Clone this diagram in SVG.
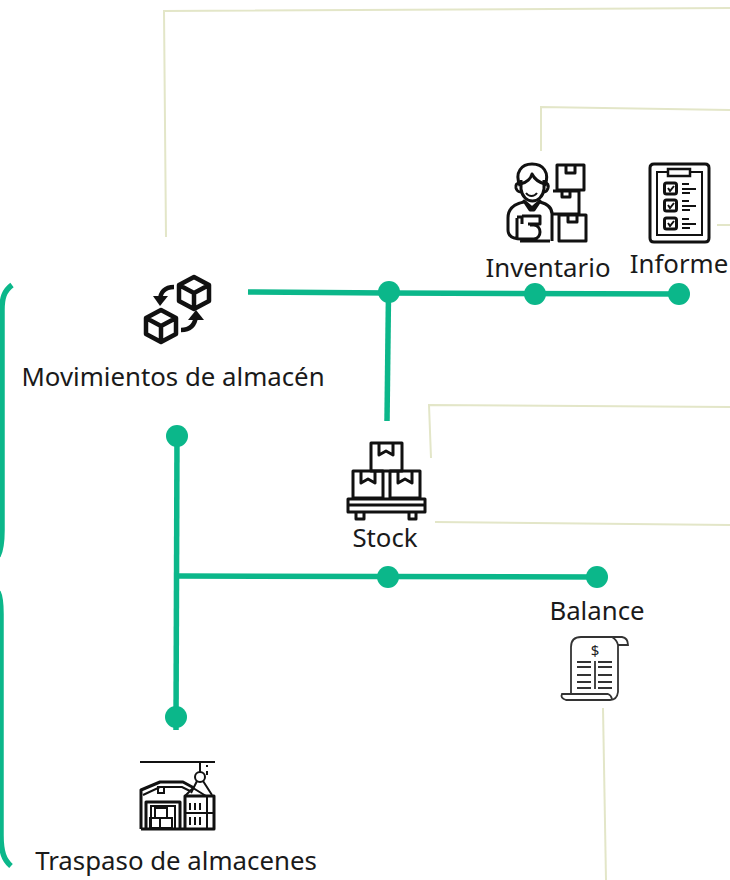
<svg xmlns="http://www.w3.org/2000/svg" width="730" height="880" viewBox="0 0 730 880">
<style>
.t{font-family:"Noto Sans","Open Sans",sans-serif;font-size:25.8px;fill:#1a1a1a;text-anchor:middle}
.g{fill:none;stroke:#0bb78a;stroke-width:5.500}
.d{fill:#0bb78a}
.l{fill:none;stroke:#e3e6c8;stroke-width:2}
.i{fill:none;stroke:#111;stroke-width:3;stroke-linejoin:round}
.k{fill:none;stroke:#111;stroke-width:2}
.b{fill:none;stroke:#333;stroke-width:1.800}
.h{fill:none;stroke:#111;stroke-width:4.500;stroke-linejoin:round}
</style>
<rect width="730" height="880" fill="#fff"/>
<g id="connectors">
<path class="l" d="M166 237 L164 11 L730 8"/>
<path class="l" d="M541 151 L541 107 L730 110"/>
<path class="l" d="M717 225 L730 225"/>
<path class="l" d="M431 458 L429 405 L730 407"/>
<path class="l" d="M435 522 L730 525"/>
<path class="l" d="M603 708 L606 880"/>
<path class="g" d="M248 292 L389 293 L679 294"/>
<path class="g" d="M388.500 293 L387 421"/>
<path class="g" d="M177 436 L176 730"/>
<path class="g" d="M177 576 L597 577"/>
<path class="g" d="M12 285 C4 291 2 298 2 310 L2 530 C2 545 0 552 -2 556"/>
<path class="g" d="M-2 592 C0 596 1 602 1 614 L1 835 C1 852 4 860 11 866"/>
<circle class="d" cx="389" cy="292" r="11"/>
<circle class="d" cx="535" cy="294" r="11"/>
<circle class="d" cx="679" cy="294" r="11"/>
<circle class="d" cx="177" cy="436" r="11"/>
<circle class="d" cx="388" cy="577" r="11"/>
<circle class="d" cx="597" cy="577" r="11"/>
<circle class="d" cx="176" cy="717" r="11"/>
</g>
<g id="movimientos">
<path class="h" d="M194 277 L209 285 L209 301 L194 309 L179 301 L179 285 Z M179 285 L194 293 L209 285 M194 293 L194 309"/>
<path class="h" d="M161 310 L176 318 L176 334 L161 342 L146 334 L146 318 Z M146 318 L161 326 L176 318 M161 326 L161 342"/>
<path class="h" d="M174 287 C165 287 160 292 160 301"/>
<path d="M153 296 L168 296 L160 306 Z" fill="#111"/>
<path class="h" d="M181 330 C190 330 195 325 196 316"/>
<path d="M188 320 L204 320 L196 310 Z" fill="#111"/>
<text class="t" x="173" y="386">Movimientos de almacén</text>
</g>
<g id="inventario">
<path class="i" d="M520 186 C514 172 522 164 532 164 C543 164 550 172 545 186"/>
<path class="i" d="M520 184 C527 183 531 178 532 174 C535 180 541 183 545 184"/>
<path class="i" d="M521 180 L521 189 C523 205 542 205 544 189 L544 180"/>
<path class="i" d="M520 183 Q515 183 516 188 Q517 192 521 192 M545 183 Q549 183 548 188 Q547 192 544 192"/>
<path class="k" d="M526 193 C529 197 534 197 537 193"/>
<path class="i" d="M524 201 L532 208 L540 201 L534 210 L530 210 Z"/>
<path class="i" d="M524 202 C513 204 508 209 508 218 L508 230 C508 237 514 239 522 239 L534 239 C542 238 542 226 534 225 L530 225 M540 202 C548 204 552 208 552 214 L552 241 M517 239 L517 218 M517 217 L522 217 L522 224 M522 216 L540 216 L540 224 L528 224 M520 241 L550 241"/>
<path class="i" d="M557 165 L584 165 L584 190 L557 190 Z M566 165 L566 173 L575 173 L575 165"/>
<path class="i" d="M553 191 L579 191 L579 214 L553 214 M562 191 L562 197 L570 197 L570 191"/>
<path class="i" d="M559 215 L586 215 L586 241 L559 241 Z M568 215 L568 222 L577 222 L577 215"/>
<text class="t" x="548" y="277">Inventario</text>
</g>
<g id="informe">
<path class="i" d="M650 168 Q650 164 654 164 L705 164 Q709 164 709 168 L709 238 Q709 242 705 242 L654 242 Q650 242 650 238 Z"/>
<path class="k" d="M657 172 L702 172 L702 235 L657 235 Z"/>
<rect x="668" y="169" width="22" height="7" fill="#fff" stroke="#111" stroke-width="2.500"/>
<rect x="664.500" y="183" width="12" height="11" rx="2" class="i"/>
<rect x="664.500" y="200" width="12" height="11" rx="2" class="i"/>
<rect x="664.500" y="218" width="12" height="11" rx="2" class="i"/>
<path class="k" d="M668 188 L670 191 L674 186 M668 205 L670 208 L674 203 M668 223 L670 226 L674 221 M682 184 L689 184 M682 189 L696 189 M682 193 L690 193 M682 201 L689 201 M682 206 L696 206 M682 210 L690 210 M682 219 L689 219 M682 224 L696 224 M682 228 L690 228"/>
<text class="t" x="679" y="273">Informe</text>
</g>
<g id="stock">
<path class="i" d="M371 443 L402 443 L402 471 L371 471 Z M379 443 L379 455 L386 451 L393 455 L393 443"/>
<path class="i" d="M353 471 L383 471 L383 498 L353 498 Z M361 471 L361 483 L368 479 L375 483 L375 471"/>
<path class="i" d="M390 471 L420 471 L420 498 L390 498 Z M398 471 L398 483 L405 479 L412 483 L412 471"/>
<path class="i" d="M348 499 L425 499 L425 512 L348 512 Z M348 505 L425 505 M356 512 L356 519 L364 519 L364 512 M409 512 L409 519 L416 519 L416 512"/>
<text class="t" x="385" y="547">Stock</text>
</g>
<g id="balance">
<text class="t" x="597" y="620">Balance</text>
<path class="b" d="M571 694 L571 647 Q571 637 581 637 L622 637 Q628 638 628 645 L618 645 Q617 640 612 637 M618 645 L618 692 Q617 700 610 700 L566 700 Q560 698 562 694 L608 694 Q611 695 612 699"/>
<path class="b" d="M577 662 L591 662 M577 667 L591 667 M577 675 L591 675 M577 682 L591 682 M577 688 L591 688 M598 662 L612 662 M598 667 L612 667 M598 675 L612 675 M598 682 L612 682 M598 688 L612 688 M595 661 L595 689"/>
<text x="595" y="656" font-family="Noto Sans, sans-serif" font-size="15" fill="#222" text-anchor="middle">$</text>
</g>
<g id="traspaso">
<path class="k" d="M140 762 L215 762 M200 762 L200 772"/>
<circle class="k" cx="200" cy="777" r="5"/>
<path class="k" d="M197 781 L191 793 M203 781 L212 795 M207 765 L207 767 M207 771 L207 775"/>
<path class="i" d="M141 829 L141 790 L160 782 L183 782 L194 788"/>
<path class="k" d="M143 795 L160 787 L182 787 L190 791"/>
<rect x="158" y="787" width="6" height="6" class="k"/>
<path class="i" d="M146 828 L146 802 L180 802 L180 828"/>
<path class="k" d="M151 828 L151 806 L175 806 L175 828"/>
<path class="k" d="M155 808 L167 808 L167 818 L155 818 Z M150 818 L160 818 L160 828 L150 828 Z M160 818 L172 818 L172 828 L160 828 Z"/>
<path class="i" d="M141 829 L214 829 L214 796 L185 796 L185 829"/>
<path class="k" d="M185 796 L193 788 L206 796 M185 813 L214 813 M207 796 L207 829"/>
<path class="k" d="M190 803 L190 810 M195 803 L195 810 M200 803 L200 810 M190 817 L190 825 M195 817 L195 825 M200 817 L200 825"/>
<text class="t" x="176" y="870">Traspaso de almacenes</text>
</g>
</svg>
